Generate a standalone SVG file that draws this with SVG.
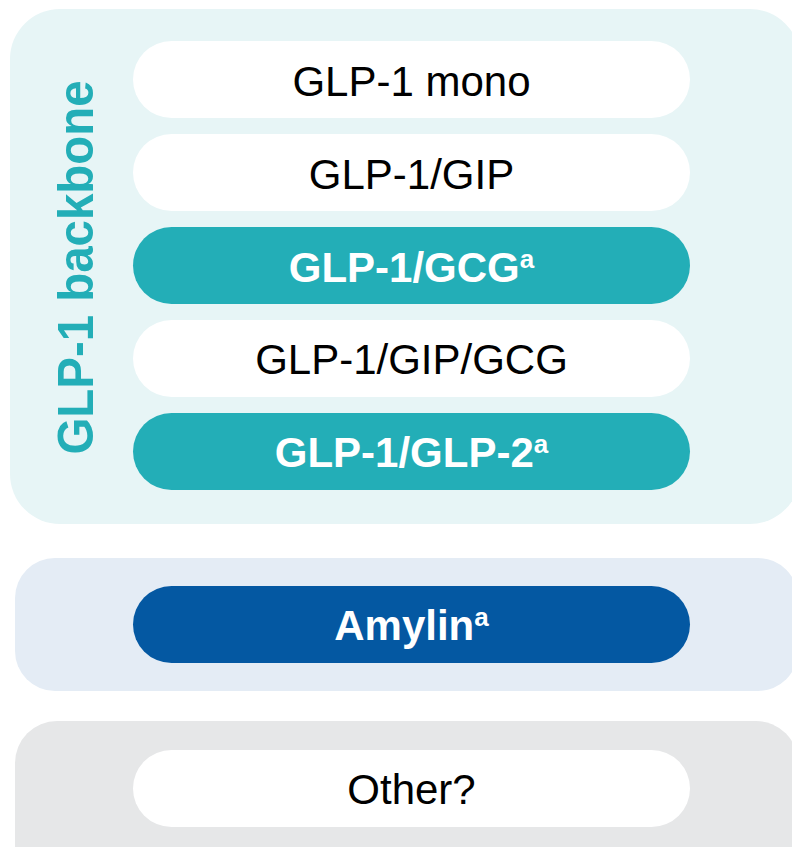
<svg xmlns="http://www.w3.org/2000/svg" width="792" height="847" viewBox="0 0 792 847">
<style>
.pill{stroke:none}
.w{fill:#FFFFFF}
.t{fill:#23AEB7}
.b{fill:#0458A2}
.lbl{font-family:"Liberation Sans",Arial,sans-serif;font-size:42px;text-anchor:middle}
.dark{fill:#000000}
.light{fill:#FFFFFF;font-weight:bold}
.sup{font-size:26px}
</style>
<rect width="792" height="847" fill="#FFFFFF"/>
<g id="panel-glp1">
<rect x="10" y="9" width="790" height="515" rx="50" ry="50" fill="#E7F5F6"/>
<text transform="translate(93,267.5) rotate(-90)" font-family="'Liberation Sans',Arial,sans-serif" font-size="50" font-weight="bold" fill="#23AEB7" text-anchor="middle" textLength="374" lengthAdjust="spacingAndGlyphs">GLP-1 backbone</text>
</g>
<g id="panel-amylin"><rect x="15" y="558" width="783" height="133" rx="40" ry="40" fill="#E4ECF5"/></g>
<g id="panel-other"><rect x="15" y="721" width="783" height="170" rx="42" ry="42" fill="#E6E7E8"/></g>
<g id="node-glp1-mono">
<rect class="pill w" x="133" y="41" width="557" height="77" rx="38.5"/>
<text class="lbl dark" x="411.5" y="96">GLP-1 mono</text>
</g>
<g id="node-glp1-gip">
<rect class="pill w" x="133" y="134" width="557" height="77" rx="38.5"/>
<text class="lbl dark" x="411.5" y="189">GLP-1/GIP</text>
</g>
<g id="node-glp1-gcg">
<rect class="pill t" x="133" y="227" width="557" height="77" rx="38.5"/>
<text class="lbl light" x="411.5" y="282">GLP-1/GCG<tspan class="sup" dy="-14">a</tspan></text>
</g>
<g id="node-glp1-gip-gcg">
<rect class="pill w" x="133" y="320" width="557" height="77" rx="38.5"/>
<text class="lbl dark" x="411.5" y="374">GLP-1/GIP/GCG</text>
</g>
<g id="node-glp1-glp2">
<rect class="pill t" x="133" y="413" width="557" height="77" rx="38.5"/>
<text class="lbl light" x="411.5" y="467">GLP-1/GLP-2<tspan class="sup" dy="-14">a</tspan></text>
</g>
<g id="node-amylin">
<rect class="pill b" x="133" y="586" width="557" height="77" rx="38.5"/>
<text class="lbl light" x="411.5" y="640">Amylin<tspan class="sup" dy="-14">a</tspan></text>
</g>
<g id="node-other">
<rect class="pill w" x="133" y="750" width="557" height="77" rx="38.5"/>
<text class="lbl dark" x="411.5" y="804">Other?</text>
</g>
<g id="connectors"/>
</svg>
